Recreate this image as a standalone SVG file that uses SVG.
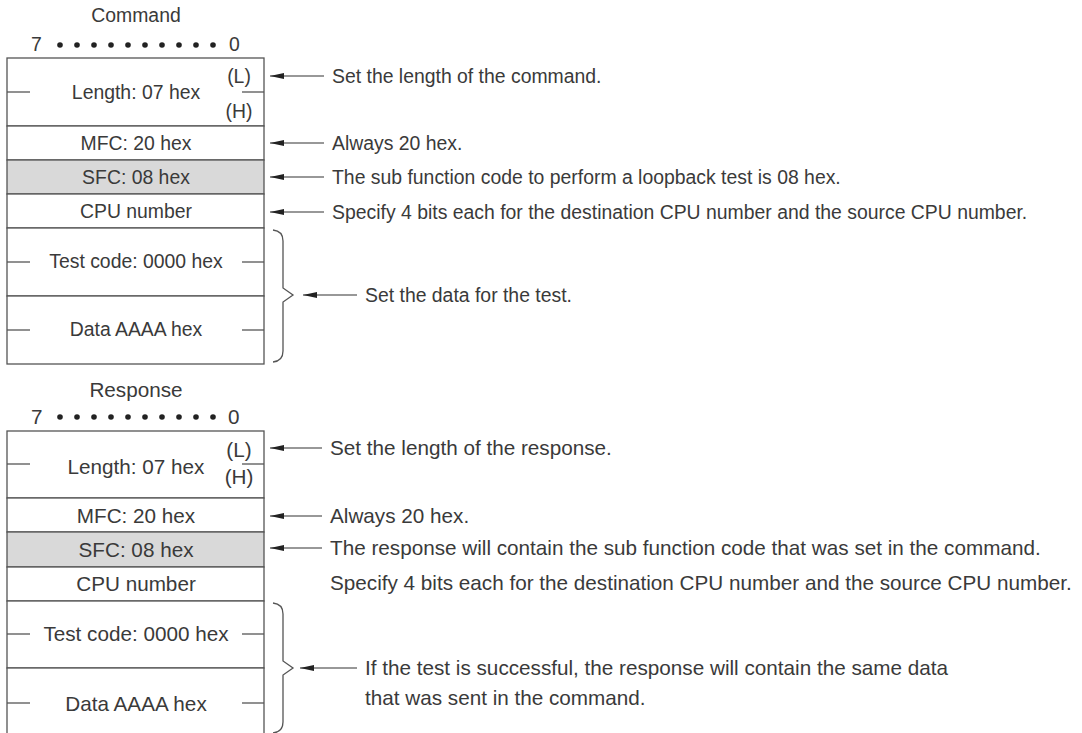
<svg xmlns="http://www.w3.org/2000/svg" width="1082" height="733" viewBox="0 0 1082 733">
<style>
text{font-family:"Liberation Sans",Arial,sans-serif;fill:#3a3a3a;}
.c{font-size:19.4px;}
.r{font-size:20.7px;}
.m{text-anchor:middle;}
.box{fill:#fff;stroke:#555;stroke-width:1.3;}
.g{fill:#d9d9d9;stroke:#555;stroke-width:1.3;}
.ln{stroke:#555;stroke-width:1.3;fill:none;}
.ar{stroke:#333;stroke-width:1.2;fill:none;marker-start:url(#ah);}
.dot{fill:#222;}
</style>
<defs>
<marker id="ah" viewBox="0 0 14 6" refX="0" refY="3" markerWidth="14" markerHeight="6" markerUnits="userSpaceOnUse" orient="auto">
<path d="M0,3 L14,0 L14,6 Z" fill="#222"/>
</marker>
</defs>

<g id="command">
<text class="c m" x="136" y="22">Command</text>
<text class="c" x="31" y="51">7</text>
<g class="dot">
<circle cx="60" cy="45" r="2.8"/><circle cx="77" cy="45" r="2.8"/><circle cx="94" cy="45" r="2.8"/><circle cx="111" cy="45" r="2.8"/><circle cx="128" cy="45" r="2.8"/><circle cx="145" cy="45" r="2.8"/><circle cx="162" cy="45" r="2.8"/><circle cx="179" cy="45" r="2.8"/><circle cx="196" cy="45" r="2.8"/><circle cx="213" cy="45" r="2.8"/>
</g>
<text class="c" x="229" y="51">0</text>
</g>

<g id="cmd-length">
<rect class="box" x="7" y="58" width="257" height="68"/>
<line class="ln" x1="7" y1="92" x2="30" y2="92"/>
<line class="ln" x1="242" y1="92" x2="264" y2="92"/>
<text class="c m" x="136" y="99">Length: 07 hex</text>
<text class="c m" x="239" y="83">(L)</text>
<text class="c m" x="239" y="118">(H)</text>
</g>
<g id="cmd-mfc">
<rect class="box" x="7" y="126" width="257" height="34"/>
<text class="c m" x="136" y="150">MFC: 20 hex</text>
</g>
<g id="cmd-sfc">
<rect class="g" x="7" y="160" width="257" height="34"/>
<text class="c m" x="136" y="184">SFC: 08 hex</text>
</g>
<g id="cmd-cpu">
<rect class="box" x="7" y="194" width="257" height="34"/>
<text class="c m" x="136" y="218">CPU number</text>
</g>
<g id="cmd-test">
<rect class="box" x="7" y="228" width="257" height="68"/>
<line class="ln" x1="7" y1="262" x2="30" y2="262"/>
<line class="ln" x1="242" y1="262" x2="264" y2="262"/>
<text class="c m" x="136" y="268">Test code: 0000 hex</text>
</g>
<g id="cmd-data">
<rect class="box" x="7" y="296" width="257" height="68"/>
<line class="ln" x1="7" y1="330" x2="30" y2="330"/>
<line class="ln" x1="242" y1="330" x2="264" y2="330"/>
<text class="c m" x="136" y="336">Data AAAA hex</text>
</g>
<g id="cmd-brace">
<path class="ln" d="M273,230 Q283,231 283,241 L283,288 L293,295 L283,302 L283,351 Q283,361 273,362"/>
</g>

<g id="response">
<text class="r m" x="136" y="397">Response</text>
<text class="r" x="31" y="424">7</text>
<g class="dot">
<circle cx="60" cy="417" r="2.8"/><circle cx="77" cy="417" r="2.8"/><circle cx="94" cy="417" r="2.8"/><circle cx="111" cy="417" r="2.8"/><circle cx="128" cy="417" r="2.8"/><circle cx="145" cy="417" r="2.8"/><circle cx="162" cy="417" r="2.8"/><circle cx="179" cy="417" r="2.8"/><circle cx="196" cy="417" r="2.8"/><circle cx="213" cy="417" r="2.8"/>
</g>
<text class="r" x="228" y="424">0</text>
</g>
<g id="rsp-length">
<rect class="box" x="7" y="431" width="257" height="67"/>
<line class="ln" x1="7" y1="464" x2="30" y2="464"/>
<line class="ln" x1="242" y1="464" x2="264" y2="464"/>
<text class="r m" x="136" y="474">Length: 07 hex</text>
<text class="r m" x="239" y="457">(L)</text>
<text class="r m" x="239" y="484">(H)</text>
</g>
<g id="rsp-mfc">
<rect class="box" x="7" y="498" width="257" height="34"/>
<text class="r m" x="136" y="523">MFC: 20 hex</text>
</g>
<g id="rsp-sfc">
<rect class="g" x="7" y="532" width="257" height="35"/>
<text class="r m" x="136" y="557">SFC: 08 hex</text>
</g>
<g id="rsp-cpu">
<rect class="box" x="7" y="567" width="257" height="34"/>
<text class="r m" x="136" y="591">CPU number</text>
</g>
<g id="rsp-test">
<rect class="box" x="7" y="601" width="257" height="67"/>
<line class="ln" x1="7" y1="634" x2="30" y2="634"/>
<line class="ln" x1="242" y1="634" x2="264" y2="634"/>
<text class="r m" x="136" y="641">Test code: 0000 hex</text>
</g>
<g id="rsp-data">
<rect class="box" x="7" y="668" width="257" height="68"/>
<line class="ln" x1="7" y1="703" x2="30" y2="703"/>
<line class="ln" x1="242" y1="703" x2="264" y2="703"/>
<text class="r m" x="136" y="711">Data AAAA hex</text>
</g>
<g id="rsp-brace">
<path class="ln" d="M273,603 Q283,604 283,614 L283,661 L293,668 L283,675 L283,722 Q283,732 273,733"/>
</g>

<g id="connectors">
<line class="ar" x1="270" y1="76" x2="324" y2="76"/>
<line class="ar" x1="270" y1="143" x2="324" y2="143"/>
<line class="ar" x1="270" y1="177" x2="324" y2="177"/>
<line class="ar" x1="270" y1="212" x2="324" y2="212"/>
<line class="ar" x1="303" y1="295" x2="357" y2="295"/>
<line class="ar" x1="270" y1="448" x2="322" y2="448"/>
<line class="ar" x1="270" y1="516" x2="322" y2="516"/>
<line class="ar" x1="270" y1="548" x2="322" y2="548"/>
<line class="ar" x1="300" y1="668" x2="357" y2="668"/>
</g>

<g id="labels">
<text class="c" x="332" y="83">Set the length of the command.</text>
<text class="c" x="332" y="150">Always 20 hex.</text>
<text class="c" x="332" y="184">The sub function code to perform a loopback test is 08 hex.</text>
<text class="c" x="332" y="219">Specify 4 bits each for the destination CPU number and the source CPU number.</text>
<text class="c" x="365" y="302">Set the data for the test.</text>
<text class="r" x="330" y="455">Set the length of the response.</text>
<text class="r" x="330" y="523">Always 20 hex.</text>
<text class="r" x="330" y="555">The response will contain the sub function code that was set in the command.</text>
<text class="r" x="330" y="590">Specify 4 bits each for the destination CPU number and the source CPU number.</text>
<text class="r" x="365" y="675">If the test is successful, the response will contain the same data</text>
<text class="r" x="365" y="705">that was sent in the command.</text>
</g>
</svg>
